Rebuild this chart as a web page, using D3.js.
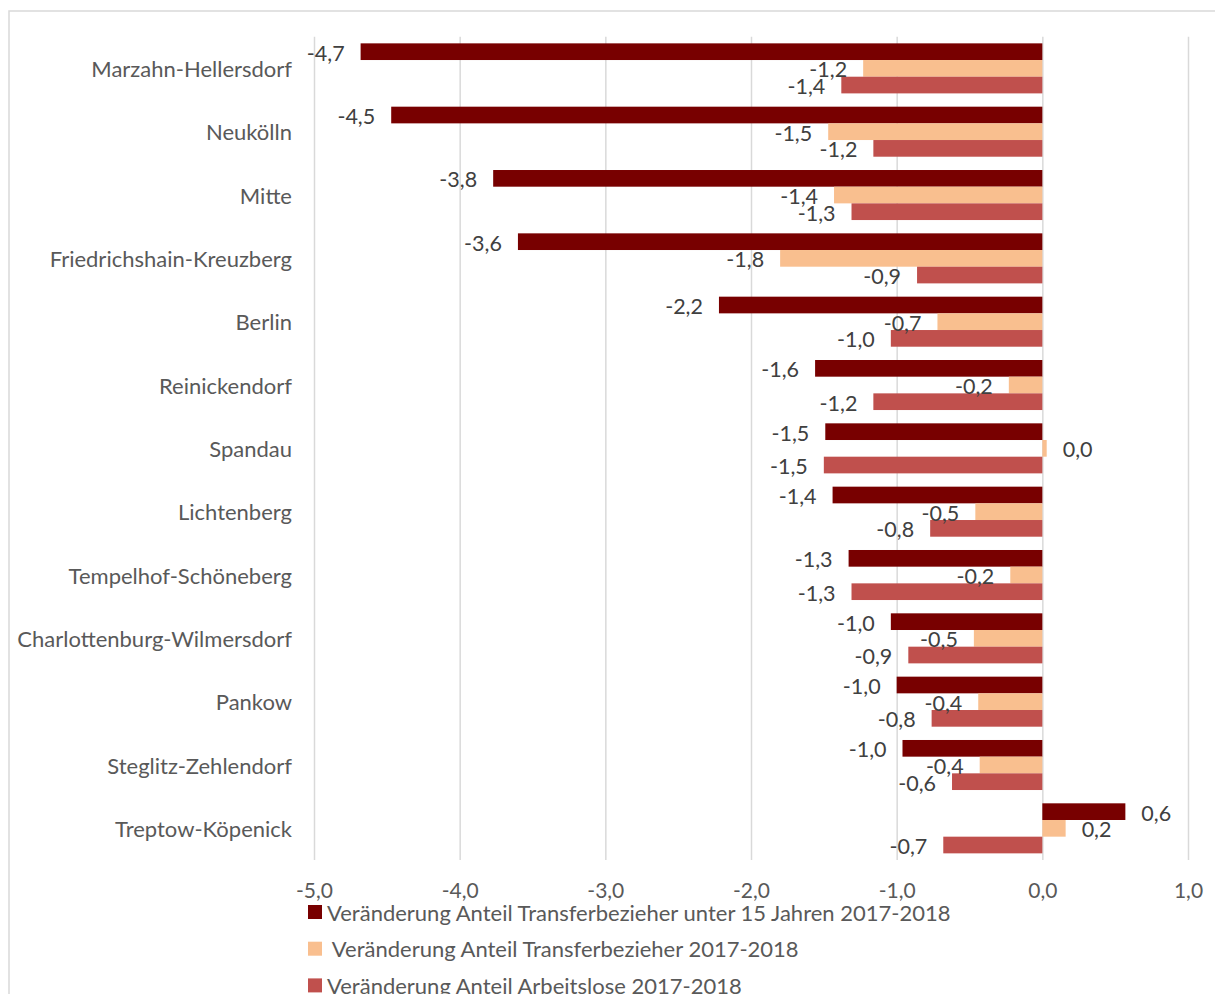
<!DOCTYPE html>
<html>
<head>
<meta charset="utf-8">
<title>Veränderung Transferbezieher Berlin</title>
<script src="https://d3js.org/d3.v7.min.js"></script>
<style>
    body { margin: 0; background: #fff; }
    svg { display: block; font-family: Lato, "Open Sans", sans-serif; }
    .cat { fill: #595959; font-size: 22px; }
    .lbl { fill: #404040; font-size: 21.5px; }
    .axis text { fill: #595959; font-size: 21px; font-family: Lato, sans-serif; }
    .axis line { stroke: #d9d9d9; stroke-width: 1.5; }
    .leg text { fill: #595959; font-size: 22px; white-space: pre; }
</style>
</head>
<body>
<div id="container"></div>
<script>
    //---------------------------DATA---------------------------//
    var categories = ["Marzahn-Hellersdorf", "Neukölln", "Mitte", "Friedrichshain-Kreuzberg", "Berlin",
        "Reinickendorf", "Spandau", "Lichtenberg", "Tempelhof-Schöneberg", "Charlottenburg-Wilmersdorf",
        "Pankow", "Steglitz-Zehlendorf", "Treptow-Köpenick"];
    var unter15 = [-4.68, -4.47, -3.77, -3.60, -2.22, -1.56, -1.49, -1.44, -1.33, -1.04, -1.00, -0.96, 0.57];
    var transfer = [-1.23, -1.47, -1.43, -1.80, -0.72, -0.23, 0.03, -0.46, -0.22, -0.47, -0.44, -0.43, 0.16];
    var arbeitslose = [-1.38, -1.16, -1.31, -0.86, -1.04, -1.16, -1.50, -0.77, -1.31, -0.92, -0.76, -0.62, -0.68];
    var seriesNames = ["Veränderung Anteil Transferbezieher unter 15 Jahren 2017-2018",
        " Veränderung Anteil Transferbezieher 2017-2018",
        "Veränderung Anteil Arbeitslose 2017-2018"];
    var tickValues = [-5, -4, -3, -2, -1, 0, 1];

    var colors = ["#780000", "#f9bf8f", "#c0504d"];
    var allSeries = [unter15, transfer, arbeitslose];

    //---------------------------SCALES---------------------------//
    var W = 1215, H = 994;
    var plotTop = 36.7, plotBottom = 860;
    var x = d3.scaleLinear().domain([-5, 1]).range([314, 1188]);
    var y = d3.scaleBand().domain(categories).range([plotTop, plotBottom]).paddingInner(0.21).paddingOuter(0.105);
    var y1 = d3.scaleBand().domain([0, 1, 2]).range([0, y.bandwidth()]);
    var fmt = function (v) { return v.toFixed(1).replace(".", ","); };

    var svg = d3.select("#container").append("svg")
        .attr("width", W).attr("height", H);

    // frame
    svg.append("rect")
        .attr("x", 9).attr("y", 11)
        .attr("width", 1400).attr("height", 1200)
        .attr("fill", "none").attr("stroke", "#d9d9d9").attr("stroke-width", 1.5);

    //---------------------------AXIS / GRID---------------------------//
    var xAxis = d3.axisBottom(x)
        .tickValues(tickValues)
        .tickSize(-(plotBottom - plotTop))
        .tickPadding(23)
        .tickFormat(fmt);

    svg.append("g")
        .attr("class", "axis")
        .attr("transform", "translate(0," + plotBottom + ")")
        .call(xAxis)
        .call(function (g) { g.select(".domain").remove(); });

    //---------------------------BARS---------------------------//
    var rows = categories.map(function (c, i) {
        return { name: c, values: allSeries.map(function (s) { return s[i]; }) };
    });

    var groups = svg.selectAll(".grp")
        .data(rows)
        .enter()
        .append("g")
        .attr("class", "grp")
        .attr("transform", function (d) { return "translate(0," + y(d.name) + ")"; });

    var cells = groups.selectAll(".bar")
        .data(function (d) { return d.values.map(function (v, k) { return { k: k, v: v }; }); })
        .enter();

    cells.append("rect")
        .attr("class", "bar")
        .attr("x", function (d) { return x(Math.min(0, d.v)); })
        .attr("y", function (d) { return y1(d.k); })
        .attr("width", function (d) { return Math.abs(x(d.v) - x(0)); })
        .attr("height", y1.bandwidth())
        .attr("fill", function (d) { return colors[d.k]; });

    // value labels outside the bar end
    cells.append("text")
        .attr("class", "lbl")
        .attr("x", function (d) { return d.v < 0 ? x(d.v) - 16 : x(d.v) + 16; })
        .attr("y", function (d) { return y1(d.k) + y1.bandwidth() / 2 + 1; })
        .attr("dominant-baseline", "central")
        .attr("text-anchor", function (d) { return d.v < 0 ? "end" : "start"; })
        .text(function (d) { return fmt(d.v); });

    // category labels
    svg.selectAll(".cat")
        .data(categories)
        .enter()
        .append("text")
        .attr("class", "cat")
        .attr("x", 292)
        .attr("y", function (d) { return y(d) + y.bandwidth() / 2; })
        .attr("dominant-baseline", "central")
        .attr("text-anchor", "end")
        .text(function (d) { return d; });

    //---------------------------LEGEND---------------------------//
    var leg = svg.append("g").attr("class", "leg");
    var legItems = leg.selectAll("g")
        .data(seriesNames)
        .enter()
        .append("g")
        .attr("transform", function (d, i) { return "translate(308," + (905 + i * 36.7) + ")"; });

    legItems.append("rect")
        .attr("width", 14).attr("height", 14)
        .attr("fill", function (d, i) { return colors[i]; });

    legItems.append("text")
        .attr("x", 19)
        .attr("y", 7)
        .attr("dominant-baseline", "central")
        .text(function (d) { return d; });
</script>
</body>
</html>
